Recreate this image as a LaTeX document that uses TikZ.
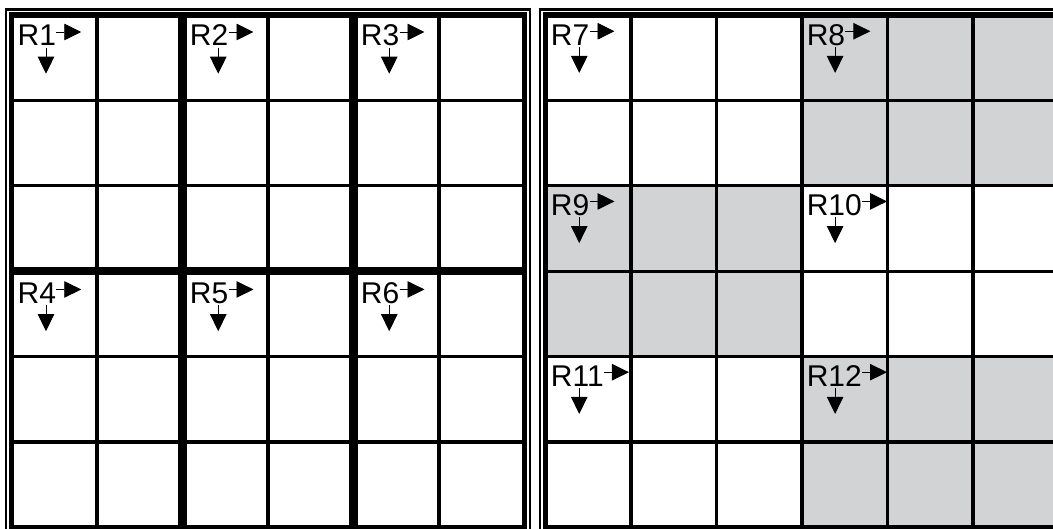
\documentclass[tikz,border=0pt]{standalone}
\usepackage{fontspec}
\setmainfont{Liberation Sans}
\usepackage{tikz}
\usetikzlibrary{arrows.meta,positioning}
\usepackage{xcolor}
\definecolor{cellgray}{RGB}{209,211,212}

\begin{document}
\begin{tikzpicture}[x=1pt,y=-1pt,
  thinrule/.style={line width=3.300000pt},
  thickrule/.style={line width=8.500000pt},
  frameband/.style={line width=5.500000pt},
  frameline/.style={line width=2.500000pt},
  regionlabel/.style={anchor=base west,inner sep=0pt,text height=28pt,text depth=0pt,font=\fontsize{30}{36}\selectfont},
  pointer/.style={line width=0.900000pt,-{Triangle[length=17pt,width=16.5pt]}}]
\useasboundingbox (0.000000,0.000000) rectangle (1053.000000,529.000000);
\clip (0.000000,0.000000) rectangle (1053.000000,529.000000);
\fill[white] (0.000000,0.000000) rectangle (1053.000000,529.000000);
% Drawing shaded regions
% Right grid: R8 R9 R12 gray
\fill[cellgray] (802.000000,15.000000) rectangle (1058.500000,185.800000);
\fill[cellgray] (545.500000,185.800000) rectangle (802.000000,356.600000);
\fill[cellgray] (802.000000,356.600000) rectangle (1058.500000,527.400000);
% Done with shading; drawing grid lines
% Left grid: columns
\draw[thinrule] (97.000000,15.000000) -- (97.000000,527.400000);
\draw[thickrule] (182.500000,15.000000) -- (182.500000,527.400000);
\draw[thinrule] (268.000000,15.000000) -- (268.000000,527.400000);
\draw[thickrule] (353.500000,15.000000) -- (353.500000,527.400000);
\draw[thinrule] (439.000000,15.000000) -- (439.000000,527.400000);
% Left grid: rows
\draw[thinrule] (11.500000,100.400000) -- (524.500000,100.400000);
\draw[thinrule] (11.500000,185.800000) -- (524.500000,185.800000);
\draw[thickrule] (11.500000,271.200000) -- (524.500000,271.200000);
\draw[thinrule] (11.500000,356.600000) -- (524.500000,356.600000);
\draw[thinrule] (11.500000,442.000000) -- (524.500000,442.000000);
% Right grid: columns
\draw[thinrule] (631.000000,15.000000) -- (631.000000,527.400000);
\draw[thinrule] (716.500000,15.000000) -- (716.500000,527.400000);
\draw[thinrule] (802.000000,15.000000) -- (802.000000,527.400000);
\draw[thinrule] (887.500000,15.000000) -- (887.500000,527.400000);
\draw[thinrule] (973.000000,15.000000) -- (973.000000,527.400000);
% Right grid: rows
\draw[thinrule] (545.500000,100.400000) -- (1058.500000,100.400000);
\draw[thinrule] (545.500000,185.800000) -- (1058.500000,185.800000);
\draw[thinrule] (545.500000,271.200000) -- (1058.500000,271.200000);
\draw[thinrule] (545.500000,356.600000) -- (1058.500000,356.600000);
\draw[thinrule] (545.500000,442.000000) -- (1058.500000,442.000000);
% Done with grid lines; drawing frames
\draw[frameband] (11.500000,15.000000) rectangle (524.500000,527.400000);
\draw[frameline] (6.000000,9.500000) rectangle (530.000000,532.900000);
\draw[frameband] (545.500000,15.000000) rectangle (1058.500000,527.400000);
\draw[frameline] (540.000000,9.500000) rectangle (1064.000000,532.900000);
% Done with frames; drawing region labels
\node[regionlabel] (r1) at (17.500000,46.000000) {R1};
\draw[pointer] (r1.east) -- ([xshift=25pt]r1.east);
\draw[pointer] ([xshift=28.5pt,yshift=-1.5pt]r1.south west) -- ([xshift=28.5pt,yshift=-27.5pt]r1.south west);
\node[regionlabel] (r2) at (189.750000,46.000000) {R2};
\draw[pointer] (r2.east) -- ([xshift=25pt]r2.east);
\draw[pointer] ([xshift=28.5pt,yshift=-1.5pt]r2.south west) -- ([xshift=28.5pt,yshift=-27.5pt]r2.south west);
\node[regionlabel] (r3) at (360.750000,46.000000) {R3};
\draw[pointer] (r3.east) -- ([xshift=25pt]r3.east);
\draw[pointer] ([xshift=28.5pt,yshift=-1.5pt]r3.south west) -- ([xshift=28.5pt,yshift=-27.5pt]r3.south west);
\node[regionlabel] (r4) at (17.500000,303.450000) {R4};
\draw[pointer] (r4.east) -- ([xshift=25pt]r4.east);
\draw[pointer] ([xshift=28.5pt,yshift=-1.5pt]r4.south west) -- ([xshift=28.5pt,yshift=-27.5pt]r4.south west);
\node[regionlabel] (r5) at (189.750000,303.450000) {R5};
\draw[pointer] (r5.east) -- ([xshift=25pt]r5.east);
\draw[pointer] ([xshift=28.5pt,yshift=-1.5pt]r5.south west) -- ([xshift=28.5pt,yshift=-27.5pt]r5.south west);
\node[regionlabel] (r6) at (360.750000,303.450000) {R6};
\draw[pointer] (r6.east) -- ([xshift=25pt]r6.east);
\draw[pointer] ([xshift=28.5pt,yshift=-1.5pt]r6.south west) -- ([xshift=28.5pt,yshift=-27.5pt]r6.south west);
\node[regionlabel] (r7) at (550.750000,45.250000) {R7};
\draw[pointer] (r7.east) -- ([xshift=25pt]r7.east);
\draw[pointer] ([xshift=28.5pt,yshift=-1.5pt]r7.south west) -- ([xshift=28.5pt,yshift=-27.5pt]r7.south west);
\node[regionlabel] (r8) at (806.600000,45.250000) {R8};
\draw[pointer] (r8.east) -- ([xshift=25pt]r8.east);
\draw[pointer] ([xshift=28.5pt,yshift=-1.5pt]r8.south west) -- ([xshift=28.5pt,yshift=-27.5pt]r8.south west);
\node[regionlabel] (r9) at (550.750000,215.400000) {R9};
\draw[pointer] (r9.east) -- ([xshift=25pt]r9.east);
\draw[pointer] ([xshift=28.5pt,yshift=-1.5pt]r9.south west) -- ([xshift=28.5pt,yshift=-27.5pt]r9.south west);
\node[regionlabel] (r10) at (806.600000,215.400000) {R10};
\draw[pointer] (r10.east) -- ([xshift=25pt]r10.east);
\draw[pointer] ([xshift=28.5pt,yshift=-1.5pt]r10.south west) -- ([xshift=28.5pt,yshift=-27.5pt]r10.south west);
\node[regionlabel] (r11) at (550.750000,386.200000) {R11};
\draw[pointer] (r11.east) -- ([xshift=25pt]r11.east);
\draw[pointer] ([xshift=28.5pt,yshift=-1.5pt]r11.south west) -- ([xshift=28.5pt,yshift=-27.5pt]r11.south west);
\node[regionlabel] (r12) at (806.600000,386.200000) {R12};
\draw[pointer] (r12.east) -- ([xshift=25pt]r12.east);
\draw[pointer] ([xshift=28.5pt,yshift=-1.5pt]r12.south west) -- ([xshift=28.5pt,yshift=-27.5pt]r12.south west);
% Done with labels
\end{tikzpicture}
\end{document}
